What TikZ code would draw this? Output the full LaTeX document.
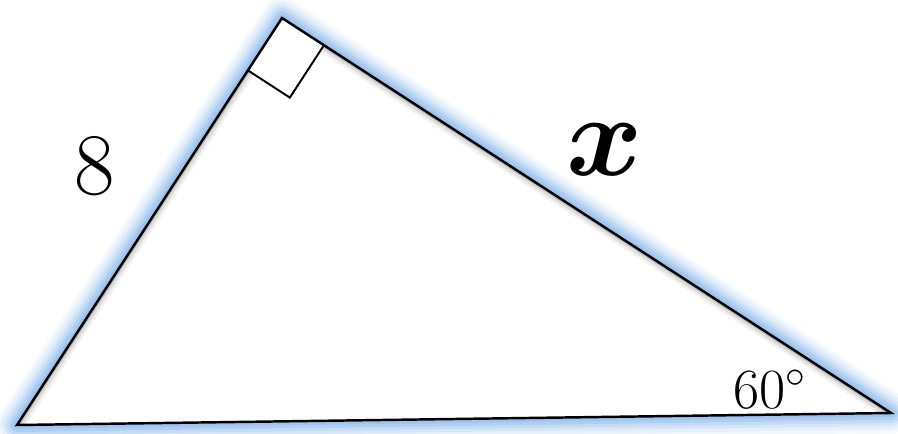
\documentclass[tikz,border=0pt]{standalone}
\usepackage{amsmath,bm,graphicx}
\usepackage{tikz}
\usetikzlibrary{calc}
\definecolor{glowblue}{HTML}{9CC3EE}

\begin{document}
\begin{tikzpicture}[
  side/.style={line width=1.4pt,line join=miter},
  glow/.style={glowblue,line join=round},
  lbl/.style={inner sep=0pt}]
\useasboundingbox (0,0) rectangle (17.96,-8.66);
\coordinate (A) at (0.34,-8.50);
\coordinate (B) at (5.64,-0.36);
\coordinate (C) at (17.82,-8.26);
% soft blue halo round the triangle
\foreach \w/\o in {0.8/0.12,0.66/0.15,0.52/0.22,0.4/0.32,0.28/0.5,0.16/0.8}
  \draw[glow,line width=\w cm,opacity=\o] (A) -- (B) -- (C) -- cycle;
\fill[white] (A) -- (B) -- (C) -- cycle;
% grey shade inside the edges
\begin{scope}
  \clip (A) -- (B) -- (C) -- cycle;
  \foreach \w/\o in {0.3/0.05,0.2/0.08,0.1/0.15}
    \draw[black,line width=\w cm,opacity=\o] (A) -- (B) -- (C);
\end{scope}
% right angle mark
\coordinate (P) at ($(B)!1.25cm!(A)$);
\coordinate (Q) at ($(B)!1.0cm!(C)$);
\coordinate (R) at ($(P)+(Q)-(B)$);
\fill[white] (B) -- (P) -- (R) -- (Q) -- cycle;
\draw[line width=1.1pt] (P) -- (R) -- (Q);
\draw[side] (A) -- (B) -- (C) -- cycle;
\node[lbl,font=\fontsize{50}{56}\selectfont] (eight) at (1.90,-3.32) {8};
\node[lbl] (hyp) at (12.10,-3.00) {\scalebox{6.6}{$\bm{x}$}};
\node[lbl,font=\fontsize{24}{28}\selectfont] (angle) at (15.40,-7.78) {\scalebox{1.3}{$60^\circ$}};
\end{tikzpicture}
\end{document}
